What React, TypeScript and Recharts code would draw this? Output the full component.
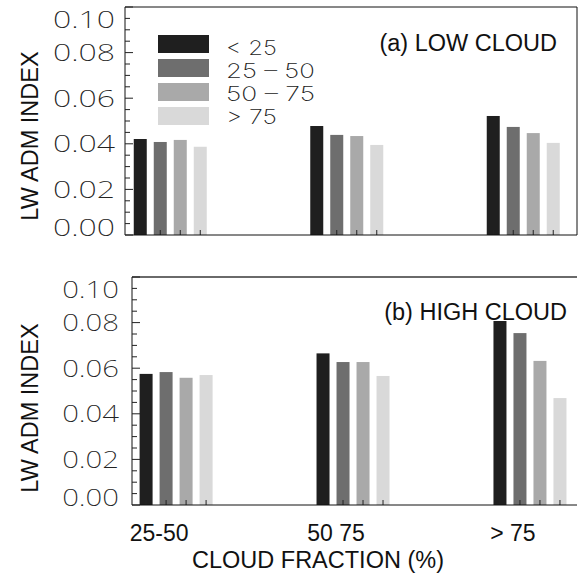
import { Bar, BarChart, Legend, ReferenceLine, XAxis, YAxis } from "recharts";

const categories = ["25-50", "50 75", "> 75"];
const seriesKeys = ["s0", "s1", "s2", "s3"];
const seriesNames = ["< 25", "25 – 50", "50 – 75", "> 75"];
const seriesColors = ["#1f1f1f", "#6e6e6e", "#a9a9a9", "#d9d9d9"];

// (a) low cloud
const lowLt25 = [0.0421, 0.0478, 0.0522];
const low25to50 = [0.0408, 0.0439, 0.0474];
const low50to75 = [0.0417, 0.0434, 0.0447];
const lowGt75 = [0.0387, 0.0395, 0.0404];

// (b) high cloud
const highLt25 = [0.0575, 0.0665, 0.0807];
const high25to50 = [0.0583, 0.0627, 0.0754];
const high50to75 = [0.0558, 0.0627, 0.0632];
const highGt75 = [0.057, 0.0566, 0.0469];

const yTicks = [
  0, 0.005, 0.01, 0.015, 0.02, 0.025, 0.03, 0.035, 0.04, 0.045, 0.05, 0.055,
  0.06, 0.065, 0.07, 0.075, 0.08, 0.085, 0.09, 0.095, 0.1,
];
const yTickLabels = ["0.00", "0.02", "0.04", "0.06", "0.08", "0.10"];

const buildRows = (cols: number[][]) =>
  categories.map((name, i) => {
    const row: Record<string, number | string> = { pos: i, name };
    seriesKeys.forEach((k, j) => (row[k] = cols[j][i]));
    return row;
  });

const lowRows = buildRows([lowLt25, low25to50, low50to75, lowGt75]);
const highRows = buildRows([highLt25, high25to50, high50to75, highGt75]);

const thinTick = { fontFamily: '"Noto Sans"', fontWeight: 200 };
const thinLegend = { fontFamily: "Inter", fontWeight: 200 };
const sans = '"Liberation Sans", Arial, sans-serif';

function LeftTick({ x, y, payload, charW, gap }: any) {
  const idx = yTicks.indexOf(payload.value);
  const major = idx % 4 === 0;
  const label = major ? yTickLabels[idx / 4] : null;
  const shift = idx === 0 ? -8 : idx === yTicks.length - 1 ? 12 : 0;
  return (
    <g>
      <line x1={x} x2={x + (major ? 8 : 5)} y1={y} y2={y} stroke="#222" />
      {label && (
        <text
          x={x - gap}
          y={y + shift}
          dy="0.36em"
          textAnchor="end"
          fontSize={24}
          fill="#222"
          textLength={label.length * charW}
          lengthAdjust="spacingAndGlyphs"
          style={thinTick}
        >
          {label}
        </text>
      )}
    </g>
  );
}

function RightTick({ x, y, payload, faint }: any) {
  const idx = yTicks.indexOf(payload.value);
  const major = idx % 4 === 0;
  const color = faint ? (major ? "#555" : "#d0d0d0") : "#222";
  return <line x1={x} x2={x - (major ? 7 : 5)} y1={y} y2={y} stroke={color} />;
}

function CategoryTick({ x, y, payload }: any) {
  return (
    <text x={x - 17} y={y + 36} textAnchor="middle" fontSize={23} fill="#111" fontFamily={sans}>
      {categories[payload.value]}
    </text>
  );
}

function BarWithTick(props: any) {
  const { x, y, width, height, fill } = props;
  return (
    <g>
      <rect x={x} y={y} width={width} height={height} fill={fill} />
      <line x1={x + width / 2} x2={x + width / 2} y1={y + height} y2={y + height - 5} stroke="#222" />
    </g>
  );
}

function LegendBox({ payload }: any) {
  const items = [...(payload ?? [])].sort(
    (a: any, b: any) => seriesNames.indexOf(a.value) - seriesNames.indexOf(b.value)
  );
  return (
    <svg width={200} height={100}>
      {items.map((p: any, i: number) => (
        <g key={p.value}>
          <rect x={0} y={i * 24} width={51} height={18} fill={p.color} />
          <text
            x={68}
            y={i * 23 + 20}
            fontSize={20}
            fill="#222"
            textLength={String(p.value).length * 12.7}
            lengthAdjust="spacingAndGlyphs"
            style={thinLegend}
          >
            {p.value}
          </text>
        </g>
      ))}
    </svg>
  );
}

const overlayText = {
  position: "absolute" as const,
  fontFamily: sans,
  fontSize: 23.5,
  lineHeight: "24px",
  color: "#111",
  whiteSpace: "nowrap" as const,
};

function YTitle({ top }: { top: number }) {
  return (
    <div
      style={{
        ...overlayText,
        left: 30 - 110,
        top: top - 12,
        width: 220,
        textAlign: "center",
        transform: "rotate(-90deg)",
      }}
    >
      LW ADM INDEX
    </div>
  );
}

function renderBars() {
  return seriesKeys.map((k, j) => (
    <Bar
      key={k}
      yAxisId="left"
      dataKey={k}
      name={seriesNames[j]}
      fill={seriesColors[j]}
      barSize={13}
      shape={BarWithTick}
      isAnimationActive={false}
    />
  ));
}

export default function App() {
  return (
    <div style={{ position: "absolute", left: 0, top: 0, width: 581, height: 573, background: "#fff" }}>
      <div style={{ position: "absolute", left: 0, top: 0 }}>
        <BarChart width={581} height={260} data={lowRows} margin={{ top: 7, right: 0, left: 0, bottom: 0 }} barGap={7}>
          <XAxis
            type="number"
            dataKey="pos"
            domain={[-0.255, 2.306]}
            ticks={[0, 1, 2]}
            tick={false}
            tickLine={false}
            height={25}
            axisLine={{ stroke: "#111" }}
          />
          <YAxis
            yAxisId="left"
            domain={[0, 0.1]}
            ticks={yTicks}
            interval={0}
            width={125}
            tickSize={0}
            tickMargin={0}
            tickLine={false}
            axisLine={{ stroke: "#111" }}
            tick={<LeftTick charW={15.5} gap={10} />}
          />
          <YAxis
            yAxisId="right"
            orientation="right"
            domain={[0, 0.1]}
            ticks={yTicks}
            interval={0}
            width={4}
            tickSize={0}
            tickMargin={0}
            tickLine={false}
            axisLine={{ stroke: "#111" }}
            tick={<RightTick />}
          />
          <ReferenceLine yAxisId="left" y={0.1} stroke="#111" />
          {renderBars()}
          <Legend
            layout="vertical"
            align="center"
            verticalAlign="middle"
            wrapperStyle={{ left: 158, top: 35, width: 200, height: 100 }}
            content={<LegendBox />}
          />
        </BarChart>
        <div style={{ ...overlayText, right: 24, top: 31 }}>(a) LOW CLOUD</div>
        <YTitle top={136} />
      </div>

      <div style={{ position: "absolute", left: 0, top: 260 }}>
        <BarChart width={581} height={313} data={highRows} margin={{ top: 17, right: 0, left: 0, bottom: 0 }} barGap={7}>
          <XAxis
            type="number"
            dataKey="pos"
            domain={[-0.249, 2.266]}
            ticks={[0, 1, 2]}
            tickSize={0}
            tickMargin={0}
            tickLine={false}
            height={68}
            axisLine={{ stroke: "#111" }}
            tick={<CategoryTick />}
          />
          <YAxis
            yAxisId="left"
            domain={[0, 0.1]}
            ticks={yTicks}
            interval={0}
            width={132}
            tickSize={0}
            tickMargin={0}
            tickLine={false}
            axisLine={{ stroke: "#111" }}
            tick={<LeftTick charW={14.2} gap={13} />}
          />
          <YAxis
            yAxisId="right"
            orientation="right"
            domain={[0, 0.1]}
            ticks={yTicks}
            interval={0}
            width={4}
            tickSize={0}
            tickMargin={0}
            tickLine={false}
            axisLine={false}
            tick={<RightTick faint />}
          />
          <ReferenceLine yAxisId="left" y={0.1} stroke="#6a6a6a" strokeWidth={2} />
          {renderBars()}
        </BarChart>
        <div style={{ ...overlayText, right: 14, top: 40 }}>(b) HIGH CLOUD</div>
        <YTitle top={148} />
        <div style={{ ...overlayText, left: 318 - 150, top: 288, width: 300, textAlign: "center" }}>
          CLOUD FRACTION (%)
        </div>
      </div>
    </div>
  );
}
